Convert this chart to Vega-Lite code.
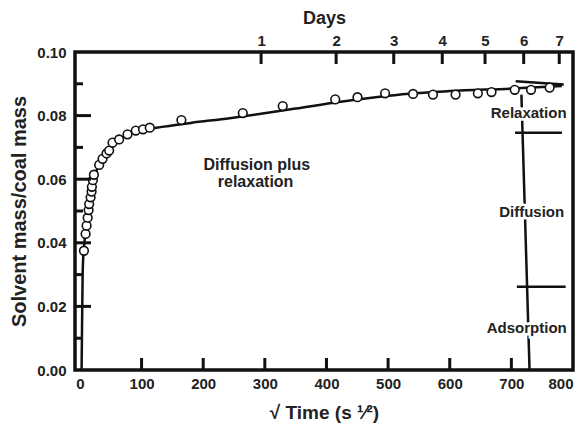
{
  "$schema": "https://vega.github.io/schema/vega-lite/v6.json",
  "width": 498,
  "height": 318,
  "autosize": {"type": "none"},
  "padding": {"left": 75, "top": 52, "right": 14, "bottom": 65},
  "background": "white",
  "config": {
    "font": "Liberation Sans",
    "view": {"stroke": "#111", "strokeWidth": 3.5},
    "axis": {"grid": false, "domain": false, "ticks": false, "labelFont": "Liberation Sans", "titleFont": "Liberation Sans", "labelFontWeight": "bold", "titleFontWeight": "bold", "labelColor": "#222", "titleColor": "#222", "labelFontSize": 15}
  },
  "datasets": {
    "curve": [
      {"t": 2.7, "m": 0.0}, {"t": 3.5, "m": 0.015}, {"t": 4.4, "m": 0.030}, {"t": 5.5, "m": 0.036},
      {"t": 7, "m": 0.0395}, {"t": 9, "m": 0.0435}, {"t": 11, "m": 0.047}, {"t": 13, "m": 0.0495},
      {"t": 16, "m": 0.053}, {"t": 19, "m": 0.0565}, {"t": 22, "m": 0.0595}, {"t": 26, "m": 0.0622},
      {"t": 31, "m": 0.0645}, {"t": 37, "m": 0.0663}, {"t": 44, "m": 0.068}, {"t": 52, "m": 0.07},
      {"t": 62, "m": 0.072}, {"t": 75, "m": 0.0737}, {"t": 90, "m": 0.0749}, {"t": 105, "m": 0.0756},
      {"t": 124, "m": 0.0762}, {"t": 180, "m": 0.0777}, {"t": 243, "m": 0.0792}, {"t": 291, "m": 0.0805},
      {"t": 350, "m": 0.0822}, {"t": 420, "m": 0.0843}, {"t": 480, "m": 0.0858}, {"t": 534, "m": 0.0869},
      {"t": 600, "m": 0.0877}, {"t": 700, "m": 0.0885}, {"t": 782, "m": 0.0893}
    ],
    "points": [
      {"t": 6.5, "m": 0.0375}, {"t": 9.2, "m": 0.0428}, {"t": 10.8, "m": 0.0454}, {"t": 12.5, "m": 0.0479},
      {"t": 14.1, "m": 0.0503}, {"t": 15, "m": 0.0522}, {"t": 17.3, "m": 0.0543}, {"t": 18.9, "m": 0.0561},
      {"t": 19.4, "m": 0.0576}, {"t": 21, "m": 0.0597}, {"t": 22.7, "m": 0.0614}, {"t": 31.2, "m": 0.0645},
      {"t": 36.7, "m": 0.0664}, {"t": 43.2, "m": 0.0681}, {"t": 47.4, "m": 0.069}, {"t": 52.9, "m": 0.0715},
      {"t": 63.6, "m": 0.0725}, {"t": 77.2, "m": 0.0741}, {"t": 90.6, "m": 0.0753}, {"t": 102.4, "m": 0.0757},
      {"t": 113.3, "m": 0.0762}, {"t": 164.6, "m": 0.0786}, {"t": 264.2, "m": 0.0808}, {"t": 329, "m": 0.083},
      {"t": 414.2, "m": 0.0851}, {"t": 450.3, "m": 0.0858}, {"t": 495.1, "m": 0.087}, {"t": 540.5, "m": 0.0868},
      {"t": 572.8, "m": 0.0866}, {"t": 609.5, "m": 0.0866}, {"t": 645.6, "m": 0.087}, {"t": 667.8, "m": 0.0874},
      {"t": 705.5, "m": 0.0881}, {"t": 731.9, "m": 0.0881}, {"t": 762.1, "m": 0.0888}
    ],
    "segments": [
      {"x1": 707, "y1": 0.0908, "x2": 785, "y2": 0.0898},
      {"x1": 706, "y1": 0.0746, "x2": 782, "y2": 0.0746},
      {"x1": 709, "y1": 0.0262, "x2": 788, "y2": 0.0262},
      {"x1": 716.3, "y1": 0.0866, "x2": 729.5, "y2": 0.0}
    ],
    "regions": [
      {"t": 728, "m": 0.0809, "label": "Relaxation"},
      {"t": 733, "m": 0.0496, "label": "Diffusion"},
      {"t": 725, "m": 0.0131, "label": "Adsorption"}
    ],
    "notes": [
      {"t": 287, "m": 0.0645, "label": "Diffusion plus"},
      {"t": 285, "m": 0.0592, "label": "relaxation"}
    ],
    "xticks": [{"t": 100}, {"t": 200}, {"t": 300}, {"t": 400}, {"t": 500}, {"t": 600}, {"t": 700}],
    "dayticks": [{"t": 293.94}, {"t": 415.69}, {"t": 509.12}, {"t": 587.88}, {"t": 657.27}, {"t": 720}, {"t": 777.69}],
    "ymajor": [{"m": 0.02}, {"m": 0.04}, {"m": 0.06}, {"m": 0.08}],
    "yminor": [{"m": 0.01}, {"m": 0.03}, {"m": 0.05}, {"m": 0.07}, {"m": 0.09}]
  },
  "resolve": {"axis": {"x": "independent", "y": "independent"}},
  "layer": [
    {
      "data": {"name": "curve"},
      "mark": {"type": "line", "color": "#111", "strokeWidth": 2.5, "interpolate": "monotone"},
      "encoding": {
        "x": {"field": "t", "type": "quantitative",
          "scale": {"domain": [-8, 800], "nice": false, "zero": false},
          "axis": {"orient": "bottom", "values": [0, 100, 200, 300, 400, 500, 600, 700, 800], "labelPadding": 6,
            "title": "√ Time (s ¹⁄²)", "titleFontSize": 19, "titlePadding": 12}},
        "y": {"field": "m", "type": "quantitative",
          "scale": {"domain": [0, 0.1], "nice": false, "zero": true},
          "axis": {"orient": "left", "values": [0, 0.02, 0.04, 0.06, 0.08, 0.1], "format": ".2f", "labelPadding": 9,
            "title": "Solvent mass/coal mass", "titleFontSize": 20, "titlePadding": 7}}
      }
    },
    {
      "data": {"name": "segments"},
      "mark": {"type": "rule", "color": "#111", "strokeWidth": 2.5},
      "encoding": {
        "x": {"field": "x1", "type": "quantitative", "axis": null},
        "y": {"field": "y1", "type": "quantitative", "axis": null},
        "x2": {"field": "x2"},
        "y2": {"field": "y2"}
      }
    },
    {
      "data": {"name": "regions"},
      "mark": {"type": "text", "font": "Liberation Sans", "fontWeight": "bold", "fontSize": 15, "fill": "white", "stroke": "white", "strokeWidth": 5},
      "encoding": {
        "x": {"field": "t", "type": "quantitative", "axis": null},
        "y": {"field": "m", "type": "quantitative", "axis": null},
        "text": {"field": "label"}
      }
    },
    {
      "data": {"name": "regions"},
      "mark": {"type": "text", "font": "Liberation Sans", "fontWeight": "bold", "fontSize": 15, "color": "#222"},
      "encoding": {
        "x": {"field": "t", "type": "quantitative", "axis": null},
        "y": {"field": "m", "type": "quantitative", "axis": null},
        "text": {"field": "label"}
      }
    },
    {
      "data": {"name": "notes"},
      "mark": {"type": "text", "font": "Liberation Sans", "fontWeight": "bold", "fontSize": 16, "color": "#222"},
      "encoding": {
        "x": {"field": "t", "type": "quantitative", "axis": null},
        "y": {"field": "m", "type": "quantitative", "axis": null},
        "text": {"field": "label"}
      }
    },
    {
      "data": {"name": "points"},
      "mark": {"type": "point", "shape": "circle", "filled": false, "fill": "white", "fillOpacity": 1, "stroke": "#111", "strokeWidth": 1.6, "size": 75, "opacity": 1},
      "encoding": {
        "x": {"field": "t", "type": "quantitative",
          "axis": {"orient": "top", "values": [293.94, 415.69, 509.12, 587.88, 657.27, 720, 777.69], "labelExpr": "round(datum.value*datum.value/86400)", "labelPadding": 4, "title": "Days", "titleFontSize": 18, "titlePadding": 6}},
        "y": {"field": "m", "type": "quantitative", "axis": null}
      }
    },
    {
      "data": {"name": "xticks"},
      "mark": {"type": "tick", "orient": "vertical", "color": "#111", "thickness": 3, "size": 12, "opacity": 1, "yOffset": -6},
      "encoding": {
        "x": {"field": "t", "type": "quantitative", "axis": null},
        "y": {"datum": 0, "type": "quantitative", "axis": null}
      }
    },
    {
      "data": {"name": "dayticks"},
      "mark": {"type": "tick", "orient": "vertical", "color": "#111", "thickness": 3, "size": 12, "opacity": 1, "yOffset": 6},
      "encoding": {
        "x": {"field": "t", "type": "quantitative", "axis": null},
        "y": {"datum": 0.1, "type": "quantitative", "axis": null}
      }
    },
    {
      "data": {"name": "ymajor"},
      "mark": {"type": "tick", "orient": "horizontal", "color": "#111", "thickness": 3, "size": 16, "opacity": 1, "xOffset": 8},
      "encoding": {
        "y": {"field": "m", "type": "quantitative", "axis": null},
        "x": {"datum": -8, "type": "quantitative", "axis": null}
      }
    },
    {
      "data": {"name": "yminor"},
      "mark": {"type": "tick", "orient": "horizontal", "color": "#111", "thickness": 3, "size": 8, "opacity": 1, "xOffset": 4},
      "encoding": {
        "y": {"field": "m", "type": "quantitative", "axis": null},
        "x": {"datum": -8, "type": "quantitative", "axis": null}
      }
    }
  ]
}
